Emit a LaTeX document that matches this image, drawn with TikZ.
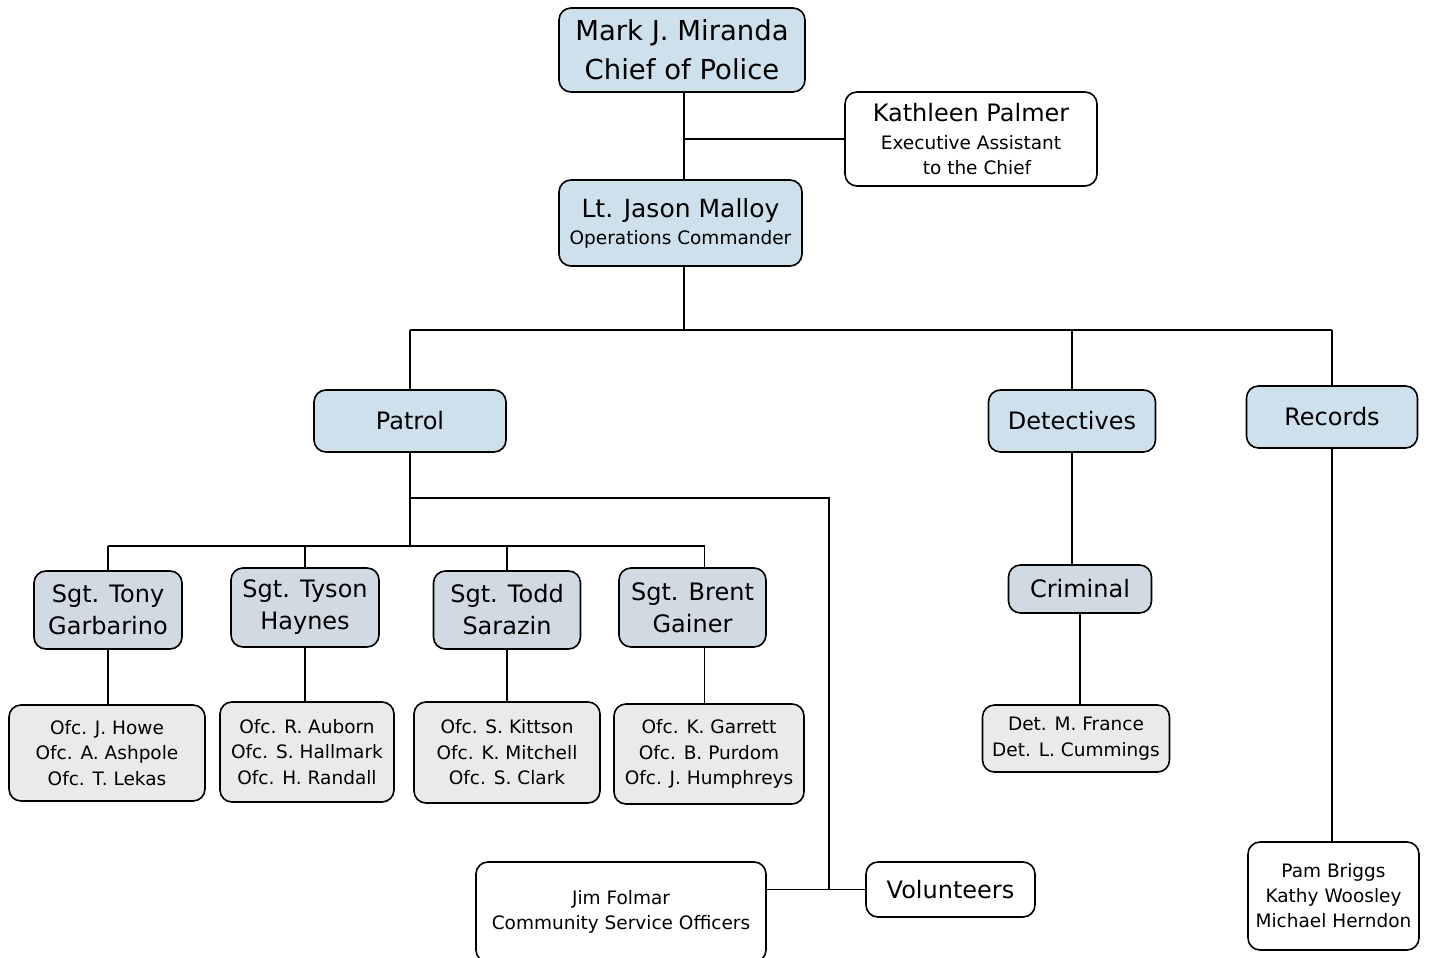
\documentclass[tikz,border=0pt]{standalone}
\usepackage{fontspec}
\setmainfont{DejaVu Sans}
\definecolor{hellblau}{HTML}{CDE0EB}
\definecolor{graublau}{HTML}{D1D9E2}
\definecolor{hellgrau}{HTML}{EAEAEA}
\begin{document}
\begin{tikzpicture}[x=1pt, y=-1pt, line width=1.6pt,
    kasten/.style={draw, rounded corners=12pt, align=center, inner sep=0pt},
    leitung/.style={kasten, fill=hellblau, font=\fontsize{24}{28}\selectfont},
    sgtbox/.style={kasten, fill=graublau, font=\fontsize{24}{32}\selectfont},
    ofcbox/.style={kasten, fill=hellgrau, font=\fontsize{18.5}{25.5}\selectfont},
    weiss/.style={kasten, fill=white, font=\fontsize{18.5}{25}\selectfont}]
    \useasboundingbox (0,0) rectangle (1429,958);

    % Chef und Stab
    \node[leitung, minimum width=246, minimum height=84, font=\fontsize{27.5}{39}\selectfont] (chef) at (682,50) {Mark J. Miranda\\Chief of Police};
    \node[weiss, minimum width=252, minimum height=94] (palmer) at (971,139) {{\fontsize{24}{25}\selectfont Kathleen Palmer}\\[3pt]Executive Assistant\\\hspace*{12pt}to the Chief};
    \node[leitung, minimum width=243, minimum height=86, font=\fontsize{18.5}{27}\selectfont] (lt) at (680.5,223) {{\fontsize{25}{27}\selectfont Lt. Jason Malloy}\\Operations Commander};

    % Abteilungen
    \node[leitung, minimum width=192, minimum height=62] (patrol) at (410,421) {Patrol};
    \node[leitung, minimum width=167, minimum height=62] (det) at (1072,421) {Detectives};
    \node[leitung, minimum width=171, minimum height=62] (rec) at (1332,417) {Records};

    % Sergeants
    \node[sgtbox, minimum width=148, minimum height=78] (sgt1) at (108,610) {Sgt. Tony\\Garbarino};
    \node[sgtbox, minimum width=148, minimum height=79] (sgt2) at (305,607.5) {Sgt. Tyson\\Haynes};
    \node[sgtbox, minimum width=147, minimum height=78] (sgt3) at (507,610) {Sgt. Todd\\Sarazin};
    \node[sgtbox, minimum width=147, minimum height=79] (sgt4) at (692.5,607.5) {Sgt. Brent\\Gainer};
    \node[sgtbox, minimum width=143, minimum height=48] (krim) at (1080,589) {Criminal};

    % Officers
    \node[ofcbox, minimum width=196, minimum height=96] (ofc1) at (107,753) {Ofc. J. Howe\\Ofc. A. Ashpole\\Ofc. T. Lekas};
    \node[ofcbox, minimum width=174, minimum height=100] (ofc2) at (307,752) {Ofc. R. Auborn\\Ofc. S. Hallmark\\Ofc. H. Randall};
    \node[ofcbox, minimum width=186, minimum height=101] (ofc3) at (507,752.5) {Ofc. S. Kittson\\Ofc. K. Mitchell\\Ofc. S. Clark};
    \node[ofcbox, minimum width=190, minimum height=100] (ofc4) at (709,754) {Ofc. K. Garrett\\Ofc. B. Purdom\\Ofc. J. Humphreys};
    \node[ofcbox, minimum width=187, minimum height=67] (detofc) at (1076,738.5) {Det. M. France\\Det. L. Cummings};
    \node[weiss, minimum width=171, minimum height=108] (recofc) at (1333.5,896) {Pam Briggs\\Kathy Woosley\\Michael Herndon};

    % Hilfskraefte
    \node[weiss, minimum width=290, minimum height=100] (cso) at (621,912) {Jim Folmar\\Community Service Officers};
    \node[weiss, minimum width=169, minimum height=55, font=\fontsize{24}{28}\selectfont] (vol) at (950.5,889.5) {Volunteers};

    % Verbindungen oben
    \coordinate (bus) at (684,330);
    \coordinate (sgtbus) at (410,546);
    \coordinate (volbus) at (829,498);
    \draw (chef.south -| bus) -- (lt.north -| bus);
    \draw (palmer.west) -- (palmer.west -| bus);
    \draw (lt.south -| bus) -- (bus);
    \draw (patrol.north |- bus) -- (rec.north |- bus);
    \draw (patrol.north |- bus) -- (patrol.north);
    \draw (det.north |- bus) -- (det.north);
    \draw (rec.north |- bus) -- (rec.north);

    % Patrol
    \draw (patrol.south) -- (sgtbus);
    \draw (sgt1.north |- sgtbus) -- ([xshift=12pt]sgt4.north |- sgtbus);
    \draw (sgt1.north |- sgtbus) -- (sgt1.north);
    \draw (sgt2.north |- sgtbus) -- (sgt2.north);
    \draw (sgt3.north |- sgtbus) -- (sgt3.north);
    \draw ([xshift=12pt]sgt4.north |- sgtbus) -- ([xshift=12pt]sgt4.north);
    \draw (sgt1.south) -- (sgt1.south |- ofc1.north);
    \draw (sgt2.south) -- (sgt2.south |- ofc2.north);
    \draw (sgt3.south) -- (sgt3.south |- ofc3.north);
    \draw ([xshift=12pt]sgt4.south) -- ([xshift=12pt]sgt4.south |- ofc4.north);
    \draw (patrol.south |- volbus) -- (volbus) -- (volbus |- vol.west);
    \draw (cso.east |- vol.west) -- (vol.west);

    % Detectives und Records
    \draw (det.south) -- (det.south |- krim.north);
    \draw (krim.south) -- (krim.south |- detofc.north);
    \draw (rec.south) -- (rec.south |- recofc.north);
\end{tikzpicture}
\end{document}
